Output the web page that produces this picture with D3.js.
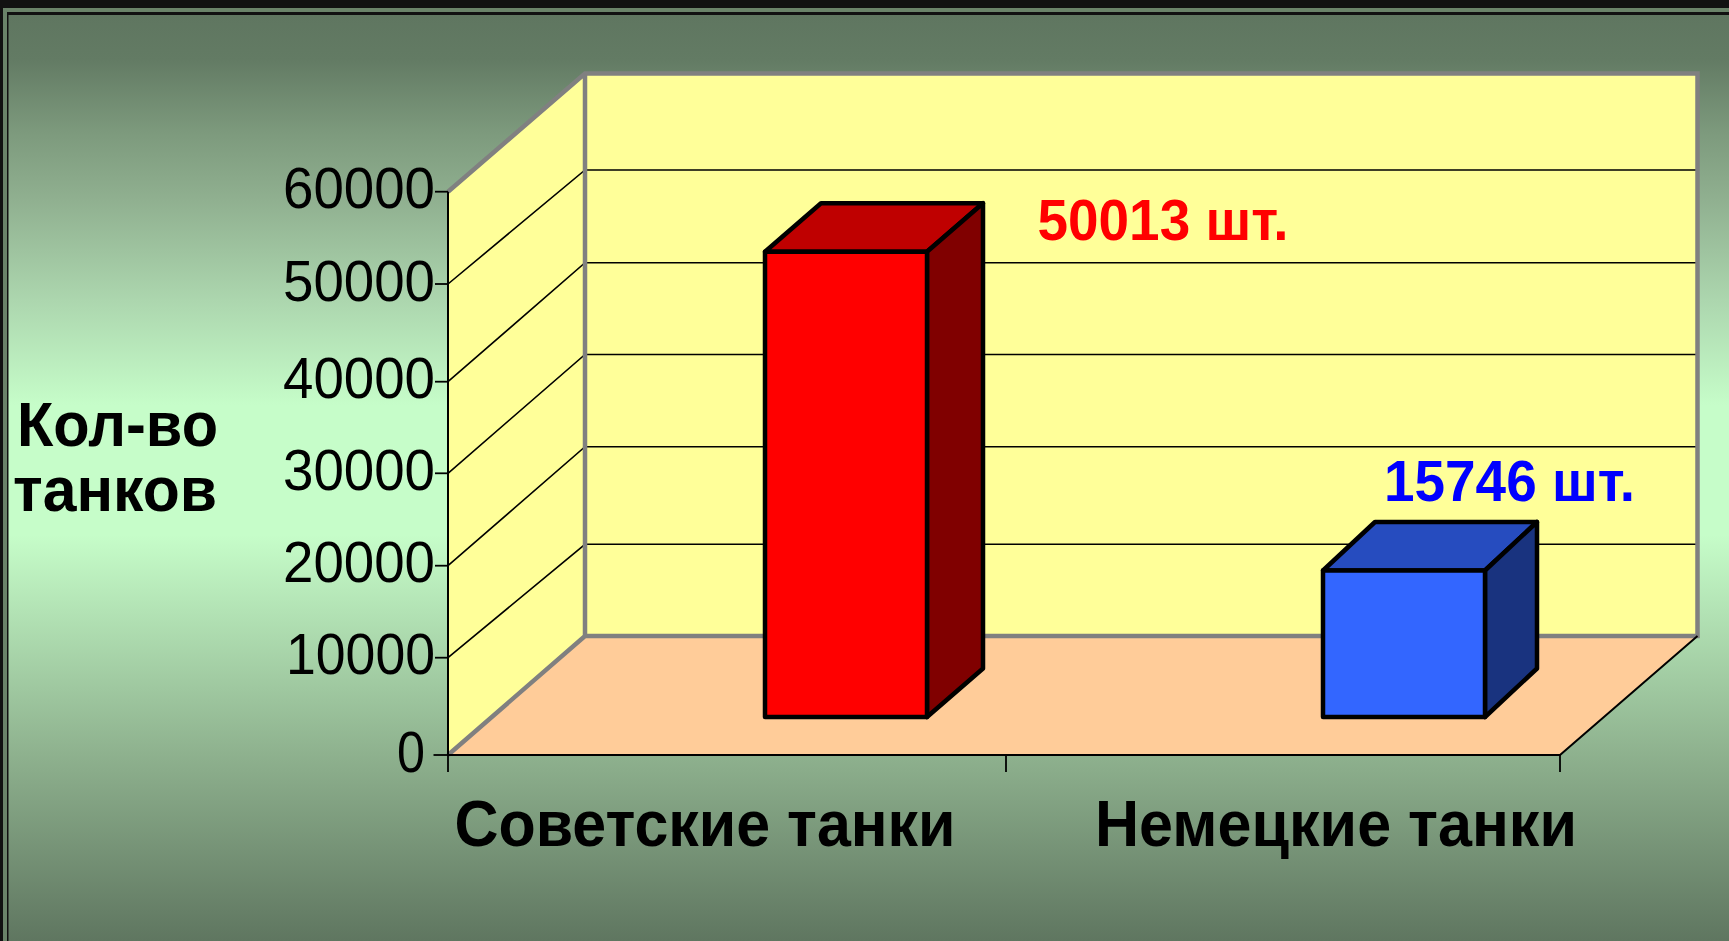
<!DOCTYPE html>
<html><head><meta charset="utf-8">
<script src="https://d3js.org/d3.v7.min.js"></script>
<style>html,body{margin:0;padding:0;background:#111;overflow:hidden}svg{display:block}text{font-family:"Liberation Sans",Arial,sans-serif}</style>
</head><body><div id="c"></div>
<script>
const categories = ["Советские танки","Немецкие танки"];
const values = [50013,15746];
const valueLabels = ["50013 шт.","15746 шт."];
const valueColors = ["#ff0000","#0000ff"];
const frontFill = ["#ff0000","#3366ff"];
const topFill = ["#bf0000","#264cbf"];
const sideFill = ["#800000","#19337f"];
const yTicks = [0,10000,20000,30000,40000,50000,60000];
const axisTitle = ["Кол-во","танков"];

const W=1729,H=941;
const svg=d3.select("#c").append("svg").attr("width",W).attr("height",H);
const defs=svg.append("defs");
const g=defs.append("linearGradient").attr("id","bg").attr("gradientUnits","userSpaceOnUse").attr("x1",0).attr("y1",0).attr("x2",0).attr("y2",941);
[[15,"#5f7660"],[60,"#637b64"],[133,"#7d9a7d"],[200,"#90b090"],[300,"#acd6ae"],[405,"#c6fdc9"],[535,"#c6fdc9"],[755,"#8eb18e"],[941,"#5f7660"]]
  .forEach(s=>g.append("stop").attr("offset",s[0]/941).attr("stop-color",s[1]));

svg.append("rect").attr("width",W).attr("height",H).attr("fill","#111");
svg.append("rect").attr("x",3).attr("y",8).attr("width",W).attr("height",H).attr("fill","#6a8369");
svg.append("rect").attr("x",7).attr("y",12).attr("width",W).attr("height",H).attr("fill","#111");
svg.append("rect").attr("x",8.5).attr("y",15).attr("width",W).attr("height",H-15).attr("fill","url(#bg)");

// Layout: the front edge of the side wall and the back wall, each as a y scale
const x0=448,x1=1560,backX0=585,backX1=1697.5;
const y=d3.scaleLinear().domain(yTicks).range([755,657.7,565.7,473.3,381.7,284,191.7]);
const yBack=d3.scaleLinear().domain(yTicks).range([636,544.3,446.7,354.5,262.7,170,73.5]);
const h=d3.scaleLinear().domain([0,60000]).range([0,558.2]);
const x=d3.scaleBand().domain(categories).range([x0,x0+2*558]);
const barW=162, barShift=317, barBase=717, depthXs=[56,52], depthY=-48.5;
const labelShift=[-22,51];
const valuePos=[[1037.5,240],[1384,500.7]];
const poly=pts=>pts.map(p=>p.join(",")).join(" ");
const yTop=y(60000), yBot=y(0), bTop=yBack(60000), bBot=yBack(0);

// walls and floor
svg.append("polygon").attr("points",poly([[backX0,bTop],[backX1,bTop],[backX1,bBot],[backX0,bBot]])).attr("fill","#ffff99");
svg.append("polygon").attr("points",poly([[x0,yTop],[backX0,bTop],[backX0,bBot],[x0,yBot]])).attr("fill","#ffff99");
svg.append("polygon").attr("points",poly([[x0,yBot],[backX0,bBot],[backX1,bBot],[x1,yBot]])).attr("fill","#ffcc99");

// gridlines
yTicks.slice(1,-1).forEach(t=>{
  svg.append("path").attr("d",`M${x0},${y(t)}L${backX0},${yBack(t)}L${backX1},${yBack(t)}`).attr("fill","none").attr("stroke","#000").attr("stroke-width",1.6);
});
// grey edges
svg.append("path").attr("d",`M${x0},${yTop}L${backX0},${bTop}L${backX1},${bTop}L${backX1},${bBot}L${backX0},${bBot}L${x0},${yBot}M${backX0},${bTop}V${bBot}`)
  .attr("fill","none").attr("stroke","#808080").attr("stroke-width",4.5).attr("stroke-linejoin","miter");
// axes
svg.append("path").attr("d",`M${x0},${yTop}V${yBot}H${x1}L${backX1},${bBot}`).attr("fill","none").attr("stroke","#000").attr("stroke-width",2);
const tk=svg.append("g");
yTicks.forEach(t=>{
  tk.append("line").attr("x1",x0-(t===0?14.5:13)).attr("x2",x0).attr("y1",y(t)).attr("y2",y(t)).attr("stroke","#000").attr("stroke-width",1.8);
  tk.append("text").attr("x",t===0?425:435).attr("y",y(t)+16.5).attr("text-anchor","end").attr("font-size",57).attr("fill","#000")
    .attr("textLength",t===0?28:(t===10000?149:152)).attr("lengthAdjust","spacingAndGlyphs").text(t);
});
[x0,x0+x.step(),x1].forEach(v=>svg.append("line").attr("x1",v).attr("x2",v).attr("y1",yBot).attr("y2",yBot+17).attr("stroke","#000").attr("stroke-width",1.8));

// bars
categories.forEach((c,i)=>{
  const depthX=depthXs[i];
  const l=x(c)+barShift, r=l+barW, b=barBase, t=b-h(values[i]);
  const gg=svg.append("g").attr("stroke","#000").attr("stroke-width",4.5).attr("stroke-linejoin","round");
  gg.append("polygon").attr("points",poly([[l,t],[l+depthX,t+depthY],[r+depthX,t+depthY],[r,t]])).attr("fill",topFill[i]);
  gg.append("polygon").attr("points",poly([[r,t],[r+depthX,t+depthY],[r+depthX,b+depthY],[r,b]])).attr("fill",sideFill[i]);
  gg.append("rect").attr("x",l).attr("y",t).attr("width",barW).attr("height",h(values[i])).attr("fill",frontFill[i]);
  svg.append("text").attr("x",valuePos[i][0]).attr("y",valuePos[i][1]).attr("font-size",57).attr("font-weight","bold").attr("fill",valueColors[i]).attr("textLength",251).attr("lengthAdjust","spacingAndGlyphs").text(valueLabels[i]);
  svg.append("text").attr("x",x(c)+x.step()/2+labelShift[i]).attr("y",846).attr("text-anchor","middle").attr("font-size",65).attr("font-weight","bold").attr("fill","#000").attr("textLength",i?482:501).attr("lengthAdjust","spacingAndGlyphs").text(c);
});
axisTitle.forEach((s,i)=>svg.append("text").attr("x",i?115:117.5).attr("y",i?510.7:445.7).attr("text-anchor","middle").attr("font-size",63).attr("font-weight","bold").attr("fill","#000").attr("textLength",i?204:201).attr("lengthAdjust","spacingAndGlyphs").text(s));
</script></body></html>
